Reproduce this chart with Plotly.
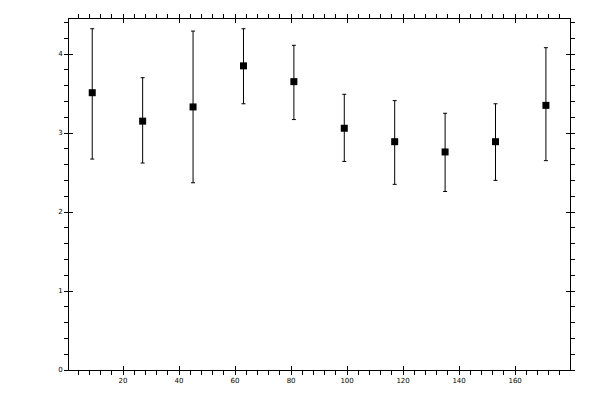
import plotly.graph_objects as go

x_vals = [9, 27, 45, 63, 81, 99, 117, 135, 153, 171]
y_vals = [3.51, 3.15, 3.33, 3.85, 3.65, 3.06, 2.89, 2.76, 2.89, 3.35]
y_upper = [4.32, 3.70, 4.29, 4.32, 4.11, 3.49, 3.41, 3.25, 3.37, 4.08]
y_lower = [2.67, 2.62, 2.37, 3.37, 3.17, 2.64, 2.35, 2.26, 2.40, 2.65]

err_plus = [u - v for u, v in zip(y_upper, y_vals)]
err_minus = [v - l for v, l in zip(y_vals, y_lower)]

fig = go.Figure()
fig.add_trace(go.Scatter(
    x=x_vals, y=y_vals, mode="markers",
    marker=dict(symbol="square", size=7, color="black"),
    error_y=dict(type="data", symmetric=False, array=err_plus, arrayminus=err_minus,
                 color="black", thickness=1, width=2),
    showlegend=False,
))
fig.add_trace(go.Scatter(x=[None], y=[None], xaxis="x2", yaxis="y2", showlegend=False))

font = dict(family="DejaVu Sans", size=7, color="black")
xr = [0.7, 179.6]
yr = [0, 4.443]

common = dict(showgrid=False, zeroline=False, showline=True, linecolor="black",
              linewidth=1, mirror="ticks", tickcolor="black", tickwidth=1)

fig.update_layout(
    width=600, height=400,
    margin=dict(l=61, r=38, t=11, b=38, autoexpand=False),
    paper_bgcolor="white", plot_bgcolor="white",
    font=font,
    xaxis=dict(range=xr, tick0=0, dtick=20, ticks="outside", ticklen=4,
               minor=dict(ticks="outside", ticklen=4, tick0=0, dtick=4, tickcolor="black", tickwidth=1),
               tickfont=font, **common),
    yaxis=dict(range=yr, tick0=0, dtick=1, ticks="outside", ticklen=4,
               minor=dict(ticks="outside", ticklen=4, tick0=0, dtick=0.2, tickcolor="black", tickwidth=1),
               tickfont=font, **common),
    xaxis2=dict(range=xr, overlaying="x", matches="x", anchor="y2", tick0=0, dtick=20,
                ticks="inside", ticklen=4, showticklabels=False, **common),
    yaxis2=dict(range=yr, overlaying="y", matches="y", anchor="x2", tick0=0, dtick=1,
                ticks="inside", ticklen=4, showticklabels=False, **common),
)

fig.write_html("out.html")
